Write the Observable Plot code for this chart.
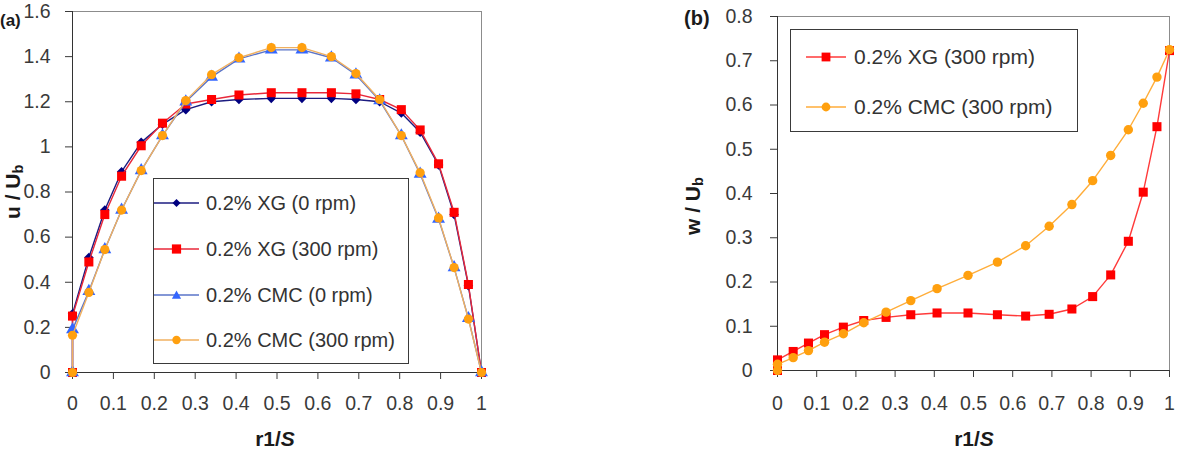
<!DOCTYPE html>
<html>
<head>
<meta charset="utf-8">
<script src="https://cdn.jsdelivr.net/npm/d3@7"></script>
<script src="https://cdn.jsdelivr.net/npm/@observablehq/plot@0.6"></script>
<style>
  body { margin: 0; background: #fff; }
  #root { position: relative; width: 1186px; height: 449px; overflow: hidden; background: #fff;
          font-family: 'Liberation Sans', Arial, sans-serif; color: #363636; }
  .abs { position: absolute; white-space: nowrap; }
  .tag { font-weight: bold; font-size: 20px; line-height: 20px; color: #1a1a1a; }
  .xtitle { font-weight: bold; font-size: 21px; line-height: 21px; transform: translateX(-50%); color: #1a1a1a; }
  .ytitle { font-weight: bold; font-size: 21px; line-height: 17px; transform: rotate(-90deg); transform-origin: 0 0; color: #1a1a1a; }
  sub { font-size: 0.7em; vertical-align: -0.22em; line-height: 0; }
  .legend { position: absolute; box-sizing: border-box; border: 1px solid #3a3a3a; background: #fff; }
  .entry { position: absolute; left: 0; display: flex; align-items: center; white-space: nowrap; color: #333; }
  .entry svg { flex: none; }
</style>
</head>
<body>
<div id="root">
  <div id="chartA" class="abs" style="left:0;top:0"></div>
  <div id="chartB" class="abs" style="left:680px;top:0"></div>
  <div class="abs tag" style="left:0px;top:12px;font-size:17px;line-height:17px">(a)</div>
  <div class="abs tag" style="left:684px;top:8px">(b)</div>
  <div class="abs ytitle" style="left:4px;top:219px">u / U<sub>b</sub></div>
  <div class="abs ytitle" style="left:684px;top:235px">w / U<sub>b</sub></div>
  <div class="abs xtitle" style="left:275px;top:428px">r1/<i>S</i></div>
  <div class="abs xtitle" style="left:974px;top:428px">r1/<i>S</i></div>
  <div id="legendA" class="legend" style="left:153px;top:178px;width:256px;height:186px"></div>
  <div id="legendB" class="legend" style="left:790px;top:29px;width:288px;height:103px"></div>
</div>
<script>
// ---------- data ----------
const xPos = [0, 0, 0.04, 0.079, 0.12, 0.168, 0.22, 0.277, 0.34, 0.407, 0.486, 0.561, 0.633, 0.693, 0.751, 0.804, 0.85, 0.895, 0.933, 0.968, 1];

const seriesNamesA = ["0.2% XG (0 rpm)", "0.2% XG (300 rpm)", "0.2% CMC (0 rpm)", "0.2% CMC (300 rpm)"];
const uXG0    = [0, 0.26, 0.51, 0.72, 0.89, 1.02, 1.10, 1.165, 1.20, 1.21, 1.215, 1.215, 1.215, 1.21, 1.20, 1.15, 1.065, 0.92, 0.70, 0.385, 0];
const uXG300  = [0, 0.25, 0.49, 0.70, 0.87, 1.005, 1.105, 1.19, 1.21, 1.23, 1.24, 1.24, 1.24, 1.235, 1.21, 1.165, 1.075, 0.925, 0.71, 0.39, 0];
const uCMC0   = [0, 0.19, 0.36, 0.545, 0.72, 0.895, 1.05, 1.20, 1.31, 1.39, 1.43, 1.43, 1.395, 1.32, 1.205, 1.05, 0.88, 0.68, 0.465, 0.24, 0];
const uCMC300 = [0, 0.165, 0.355, 0.545, 0.72, 0.895, 1.05, 1.205, 1.32, 1.395, 1.44, 1.44, 1.40, 1.325, 1.21, 1.05, 0.885, 0.685, 0.465, 0.237, 0];

const seriesNamesB = ["0.2% XG (300 rpm)", "0.2% CMC (300 rpm)"];
const wXG300  = [0, 0.024, 0.043, 0.062, 0.081, 0.098, 0.113, 0.12, 0.126, 0.13, 0.13, 0.126, 0.123, 0.127, 0.139, 0.167, 0.216, 0.292, 0.403, 0.551, 0.723];
const wCMC300 = [0, 0.014, 0.029, 0.045, 0.064, 0.083, 0.108, 0.132, 0.158, 0.185, 0.215, 0.245, 0.282, 0.326, 0.375, 0.429, 0.486, 0.544, 0.604, 0.663, 0.725];

const xTicks = [0, 0.1, 0.2, 0.3, 0.4, 0.5, 0.6, 0.7, 0.8, 0.9, 1];
const xTickLabels = ["0", "0.1", "0.2", "0.3", "0.4", "0.5", "0.6", "0.7", "0.8", "0.9", "1"];
const yTicksA = [0, 0.2, 0.4, 0.6, 0.8, 1, 1.2, 1.4, 1.6];
const yTickLabelsA = ["0", "0.2", "0.4", "0.6", "0.8", "1", "1.2", "1.4", "1.6"];
const yTicksB = [0, 0.1, 0.2, 0.3, 0.4, 0.5, 0.6, 0.7, 0.8];
const yTickLabelsB = ["0", "0.1", "0.2", "0.3", "0.4", "0.5", "0.6", "0.7", "0.8"];

// ---------- styles ----------
const stylesA = [
  {symbol: "diamond2", fill: "#000080", line: "#1c1c80", r: 4.3, lr: 4},
  {symbol: "square",   fill: "#ff0000", line: "#e8283a", r: 5.1, lr: 4.6},
  {symbol: "triangle", fill: "#3366ff", line: "#5a74c8", r: 4.8, lr: 4.6},
  {symbol: "circle",   fill: "#ffa00f", line: "#f0b060", r: 4.6, lr: 4.2}
];
const stylesB = [
  {symbol: "square", fill: "#ff0000", line: "#ff3a3a", r: 5.1, lr: 4.4},
  {symbol: "circle", fill: "#ffa00f", line: "#ffad3a", r: 4.7, lr: 4.4}
];

const rows = vals => xPos.map((x, i) => ({x, y: vals[i]}));
const fmt = (ticks, labels) => d => labels[ticks.indexOf(d)];

function seriesMarks(valsList, styles) {
  const marks = [];
  valsList.forEach((vals, k) => {
    const s = styles[k];
    const data = rows(vals);
    marks.push(Plot.line(data, {x: "x", y: "y", stroke: s.line, strokeWidth: 1.4}));
    marks.push(Plot.dot(data, {x: "x", y: "y", symbol: () => s.symbol, fill: s.fill, r: s.r}));
  });
  return marks;
}

const baseStyle = {
  fontFamily: "'Liberation Sans', Arial, sans-serif",
  fontSize: "19.5px",
  color: "#3a3a3a",
  background: "transparent",
  overflow: "visible"
};

const chartA = Plot.plot({
  width: 500, height: 449,
  marginLeft: 72, marginRight: 19, marginTop: 11, marginBottom: 77,
  x: {domain: [0, 1]},
  y: {domain: [0, 1.6]},
  style: baseStyle,
  marks: [
    Plot.frame({stroke: "#8c8c8c"}),
    Plot.ruleX([0], {stroke: "#333"}),
    Plot.ruleY([0], {stroke: "#333"}),
    Plot.axisX({ticks: xTicks, tickFormat: fmt(xTicks, xTickLabels), tickSize: 7, tickPadding: 17, label: null}),
    Plot.axisY({ticks: yTicksA, tickFormat: fmt(yTicksA, yTickLabelsA), tickSize: 7, tickPadding: 15, label: null}),
    ...seriesMarks([uXG0, uXG300, uCMC0, uCMC300], stylesA)
  ]
});
document.getElementById("chartA").appendChild(chartA);

const chartB = Plot.plot({
  width: 506, height: 449,
  marginLeft: 97, marginRight: 17, marginTop: 16, marginBottom: 79,
  x: {domain: [0, 1]},
  y: {domain: [0, 0.8]},
  style: baseStyle,
  marks: [
    Plot.frame({stroke: "#8c8c8c"}),
    Plot.ruleX([0], {stroke: "#333"}),
    Plot.ruleY([0], {stroke: "#333"}),
    Plot.axisX({ticks: xTicks, tickFormat: fmt(xTicks, xTickLabels), tickSize: 7, tickPadding: 19, label: null}),
    Plot.axisY({ticks: yTicksB, tickFormat: fmt(yTicksB, yTickLabelsB), tickSize: 7, tickPadding: 18, label: null}),
    ...seriesMarks([wXG300, wCMC300], stylesB)
  ]
});
document.getElementById("chartB").appendChild(chartB);

// ---------- legends ----------
function glyph(s, cx, cy) {
  const r = s.lr;
  if (s.symbol === "square") return `<rect x="${cx - r}" y="${cy - r}" width="${2 * r}" height="${2 * r}" fill="${s.fill}"/>`;
  if (s.symbol === "circle") return `<circle cx="${cx}" cy="${cy}" r="${r}" fill="${s.fill}"/>`;
  if (s.symbol === "diamond2") return `<polygon points="${cx},${cy - r} ${cx + r},${cy} ${cx},${cy + r} ${cx - r},${cy}" fill="${s.fill}"/>`;
  if (s.symbol === "triangle") return `<polygon points="${cx},${cy - r} ${cx + r},${cy + r * 0.8} ${cx - r},${cy + r * 0.8}" fill="${s.fill}"/>`;
  return "";
}
function buildLegend(el, names, styles, opts) {
  names.forEach((name, i) => {
    const s = styles[i];
    const div = document.createElement("div");
    div.className = "entry";
    div.style.top = (opts.centers[i] - 15) + "px";
    div.style.height = "30px";
    div.style.fontSize = opts.fontSize;
    div.innerHTML =
      `<svg width="${opts.swW}" height="30" style="margin-left:${opts.swX}px">` +
      `<line x1="0" x2="${opts.swW}" y1="15" y2="15" stroke="${s.line}" stroke-width="1.4"/>` +
      glyph(s, opts.swW / 2, 15) + `</svg>` +
      `<span style="margin-left:${opts.gap}px">${name}</span>`;
    el.appendChild(div);
  });
}
buildLegend(document.getElementById("legendA"), seriesNamesA, stylesA,
  {centers: [24, 70, 116, 161], swX: 0, swW: 45, gap: 7, fontSize: "20px"});
buildLegend(document.getElementById("legendB"), seriesNamesB, stylesB,
  {centers: [27, 77], swX: 15, swW: 40, gap: 8, fontSize: "21px"});
</script>
</body>
</html>
